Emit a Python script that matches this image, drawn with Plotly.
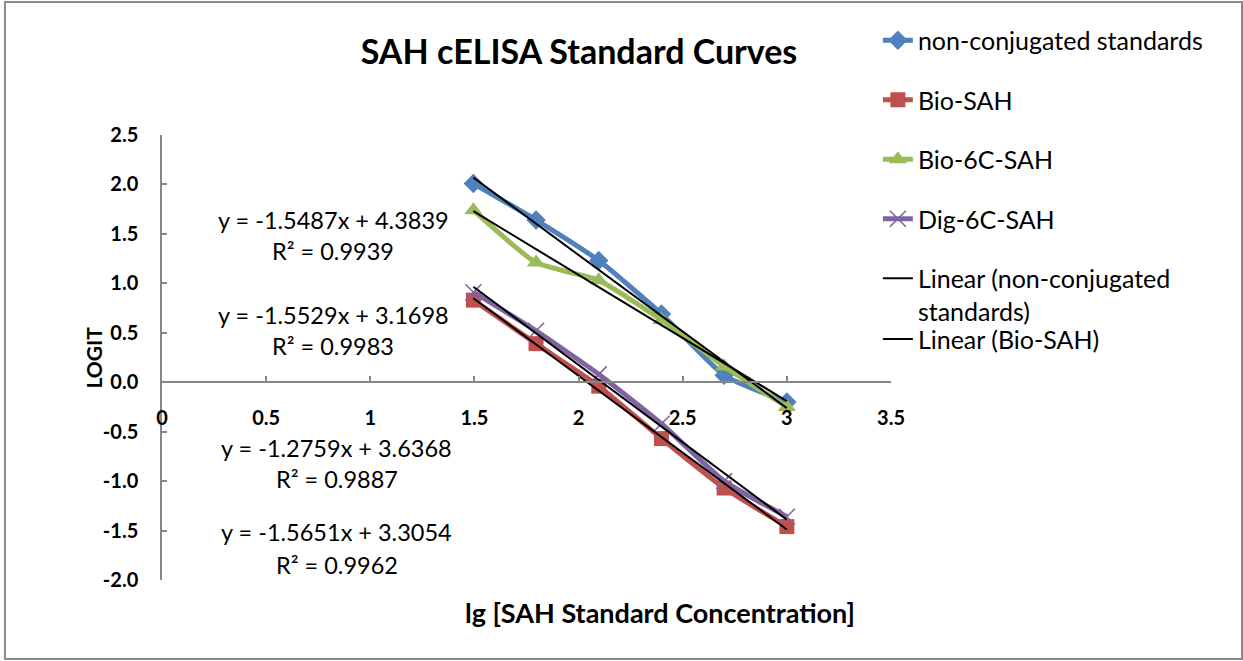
import plotly.graph_objects as go

# ---- data ----
lg_conc = [1.49485, 1.79588, 2.09691, 2.39794, 2.69897, 3.0]
non_conjugated = [2.01, 1.64, 1.23, 0.69, 0.07, -0.20]
bio_sah = [0.83, 0.39, -0.04, -0.57, -1.07, -1.46]
bio_6c_sah = [1.74, 1.21, 1.03, 0.63, 0.16, -0.25]
dig_6c_sah = [0.91, 0.52, 0.08, -0.42, -1.00, -1.36]

series_names = ["non-conjugated standards", "Bio-SAH", "Bio-6C-SAH", "Dig-6C-SAH"]
series_values = [non_conjugated, bio_sah, bio_6c_sah, dig_6c_sah]
series_colors = ["#4F81BD", "#C0504D", "#9BBB59", "#8064A2"]
series_symbols = ["diamond", "square", "triangle-up", "x-thin-open"]
series_sizes = [15, 15, 16, 16]

# trendline coefficients as printed on the chart (slope, intercept, R²)
trend_slopes = [-1.5487, -1.5529, -1.2759, -1.5651]
trend_intercepts = [4.3839, 3.1698, 3.6368, 3.3054]
trend_r2 = ["0.9939", "0.9983", "0.9887", "0.9962"]
trend_names = ["Linear (non-conjugated<br>standards)", "Linear (Bio-SAH)", None, None]

x_tick_vals = [0, 0.5, 1, 1.5, 2, 2.5, 3, 3.5]
x_tick_text = ["0", "0.5", "1", "1.5", "2", "2.5", "3", "3.5"]
y_tick_vals = [-2.0, -1.5, -1.0, -0.5, 0.0, 0.5, 1.0, 1.5, 2.0, 2.5]
y_tick_text = ["-2.0", "-1.5", "-1.0", "-0.5", "0.0", "0.5", "1.0", "1.5", "2.0", "2.5"]

FONT = "Lato"
AXIS_GRAY = "#868686"

fig = go.Figure()

for i, (name, vals) in enumerate(zip(series_names, series_values)):
    sym = series_symbols[i]
    marker = dict(symbol=sym, size=series_sizes[i], color=series_colors[i])
    if sym == "x-thin-open":
        marker["line"] = dict(color=series_colors[i], width=1.6)
    fig.add_trace(go.Scatter(
        x=lg_conc, y=vals, name=name, mode="lines+markers",
        line=dict(color=series_colors[i], width=5, shape="spline", smoothing=0.5),
        marker=marker, legendgroup=f"g{i}",
    ))

# trendlines drawn on top
for i in range(4):
    xs = [lg_conc[0], lg_conc[-1]]
    ys = [trend_slopes[i] * x + trend_intercepts[i] for x in xs]
    nm = trend_names[i]
    fig.add_trace(go.Scatter(
        x=xs, y=ys, mode="lines", name=nm if nm else f"Linear ({series_names[i]})",
        line=dict(color="black", width=2),
        showlegend=nm is not None,
        legendgroup=f"t{i}",
        legend="legend2" if i == 1 else "legend",
    ))

# equation labels
eq_x = [0.822, 0.822, 0.84, 0.84]
eq_y = [(1.643, 1.329), (0.681, 0.367), (-0.667, -0.981), (-1.517, -1.851)]
for k in range(4):
    slope, inter = trend_slopes[k], trend_intercepts[k]
    line1 = f"y = {slope:.4f}x + {inter:.4f}"
    line2 = f"R² = {trend_r2[k]}"
    for txt, yy in zip([line1, line2], eq_y[k]):
        fig.add_annotation(x=eq_x[k], y=yy, xref="x", yref="y", text=txt,
                           showarrow=False, xanchor="center", yanchor="middle",
                           font=dict(family=FONT, size=23.5, color="black"))

# x-axis title (axis sits at y=0, title at the bottom of the plot)
fig.add_annotation(x=0.683, y=-0.074, xref="paper", yref="paper",
                   text="<b>lg [SAH Standard Concentration]</b>", showarrow=False,
                   xanchor="center", yanchor="middle",
                   font=dict(family=FONT, size=27, color="black"))
# y-axis title
fig.add_annotation(x=-0.0945, y=0.5, xref="paper", yref="paper",
                   text="<b>LOGIT</b>", showarrow=False, textangle=-90,
                   xanchor="center", yanchor="middle",
                   font=dict(family=FONT, size=21, color="black"))

# outer chart border
fig.add_shape(type="rect", xref="paper", yref="paper",
              x0=-0.2154, x1=1.4815, y0=-0.1775, y1=1.2989,
              line=dict(color="#8a8a8a", width=2), layer="below")

fig.update_layout(
    width=1243, height=661,
    margin=dict(l=162, r=352, t=135, b=81),
    paper_bgcolor="white", plot_bgcolor="white",
    font=dict(family=FONT, color="black"),
    title=dict(text="<b>SAH cELISA Standard Curves</b>", x=0.572, xref="paper",
               xanchor="center", y=0.921, yanchor="middle", yref="container",
               font=dict(family=FONT, size=34, color="black")),
    xaxis=dict(range=[0, 3.5], tickvals=x_tick_vals, ticktext=x_tick_text,
               anchor="free", position=0.4444, showline=True, linecolor=AXIS_GRAY,
               linewidth=1.5, ticks="inside", ticklen=5, tickcolor=AXIS_GRAY,
               tickwidth=1.5, showgrid=False, zeroline=False,
               tickfont=dict(family=FONT, size=20, color="black", weight="bold"),
               ticklabelstandoff=18),
    yaxis=dict(range=[-2, 2.5], tickvals=y_tick_vals, ticktext=y_tick_text,
               showline=True, linecolor=AXIS_GRAY, linewidth=1.5, ticks="inside",
               ticklen=5, tickcolor=AXIS_GRAY, tickwidth=1.5, showgrid=False,
               zeroline=False, tickfont=dict(family=FONT, size=20, color="black", weight="bold"),
               ticklabelstandoff=18),
    legend=dict(x=0.982, xanchor="left", y=1.264, yanchor="top",
                font=dict(family=FONT, size=25, color="black"),
                tracegroupgap=24, valign="top", bgcolor="rgba(0,0,0,0)"),
    legend2=dict(x=0.982, xanchor="left", y=0.541, yanchor="middle",
                 font=dict(family=FONT, size=25, color="black"),
                 valign="top", bgcolor="rgba(0,0,0,0)"),
)

fig.write_html("out.html", config={"displayModeBar": False},
               post_script="document.body.style.margin='0';")
